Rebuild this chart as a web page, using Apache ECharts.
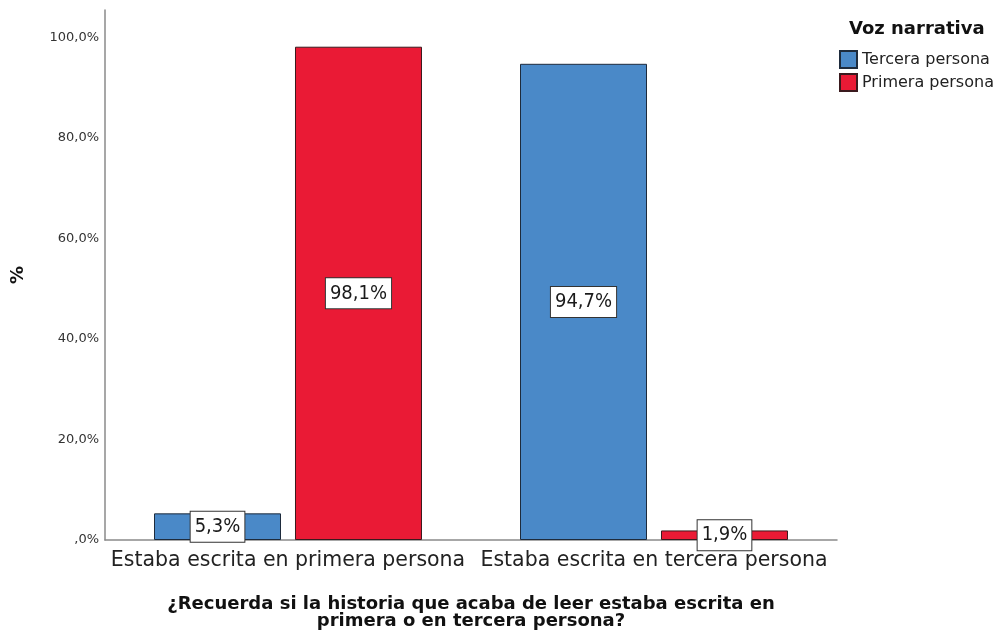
<!DOCTYPE html>
<html>
<head>
<meta charset="utf-8">
<script src="https://cdn.jsdelivr.net/npm/echarts@6/dist/echarts.min.js"></script>
<style>html,body{margin:0;padding:0;background:#fff}#c{width:996px;height:632px}</style>
</head>
<body>
<div id="c"></div>
<script>
const categories = ['Estaba escrita en primera persona', 'Estaba escrita en tercera persona'];
const seriesNames = ['Tercera persona', 'Primera persona'];
const terceraValues = [5.3, 94.7];
const primeraValues = [98.1, 1.9];
const yTicks = [0, 20, 40, 60, 80, 100];

const FF = '"DejaVu Sans", Verdana, sans-serif';
const FFC = '"DejaVu Sans Condensed", "DejaVu Sans", sans-serif';
const fmt = v => (v === 0 ? ',0' : v.toFixed(1).replace('.', ',')) + '%';
const labelStyle = {
  show: true, position: 'inside',
  formatter: p => p.value.toFixed(1).replace('.', ',') + '%',
  color: '#1a1a1a', fontFamily: FFC, fontSize: 20,
  backgroundColor: '#fff', borderColor: '#333', borderWidth: 1,
  padding: [6, 4, 4, 4]
};
const chart = echarts.init(document.getElementById('c'), null, {renderer: 'canvas'});
chart.setOption({
  animation: false,
  backgroundColor: '#fff',
  title: {
    text: 'Voz narrativa', left: 849, top: 20, padding: 0,
    textStyle: {fontFamily: FF, fontWeight: 'bold', fontSize: 18, color: '#111'}
  },
  legend: {
    orient: 'vertical', left: 839, top: 50, itemWidth: 17, itemHeight: 17, itemGap: 4,
    padding: 0, icon: 'rect',
    textStyle: {fontFamily: FF, fontSize: 16, color: '#222', padding: [0,0,0,0]},
    data: seriesNames
  },
  grid: {left: 105, top: 10, right: 159, bottom: 92, containLabel: false, outerBoundsMode: 'none'},
  xAxis: {
    type: 'category', data: categories,
    axisLine: {lineStyle: {color: '#8a8a8a', width: 1.5}},
    axisTick: {show: false},
    axisLabel: {fontFamily: FF, fontSize: 20.5, color: '#222', margin: 10, interval: 0},
    name: '¿Recuerda si la historia que acaba de leer estaba escrita en\nprimera o en tercera persona?',
    nameLocation: 'middle', nameGap: 56,
    nameTextStyle: {fontFamily: FF, fontWeight: 'bold', fontSize: 18, color: '#111', lineHeight: 17}
  },
  yAxis: {
    type: 'value', min: 0, max: 105.4, interval: 20,
    axisLine: {show: true, lineStyle: {color: '#8a8a8a', width: 1.5}},
    axisTick: {show: false},
    splitLine: {show: false},
    axisLabel: {
      fontFamily: FF, fontSize: 13, color: '#333', margin: 6,
      formatter: v => yTicks.includes(v) ? fmt(v) : ''
    },
    name: '%', nameLocation: 'middle', nameGap: 78, nameRotate: 90,
    nameTextStyle: {fontFamily: FF, fontWeight: 'bold', fontSize: 18, color: '#111'}
  },
  series: [
    {
      name: seriesNames[0], type: 'bar', data: terceraValues,
      barWidth: 127, barGap: '11%',
      itemStyle: {color: '#4a89c8', borderColor: '#1e2b3c', borderWidth: 1},
      label: labelStyle
    },
    {
      name: seriesNames[1], type: 'bar', data: primeraValues,
      barWidth: 127,
      itemStyle: {color: '#ea1a35', borderColor: '#3a1a1e', borderWidth: 1},
      label: labelStyle
    }
  ]
});
</script>
</body>
</html>
